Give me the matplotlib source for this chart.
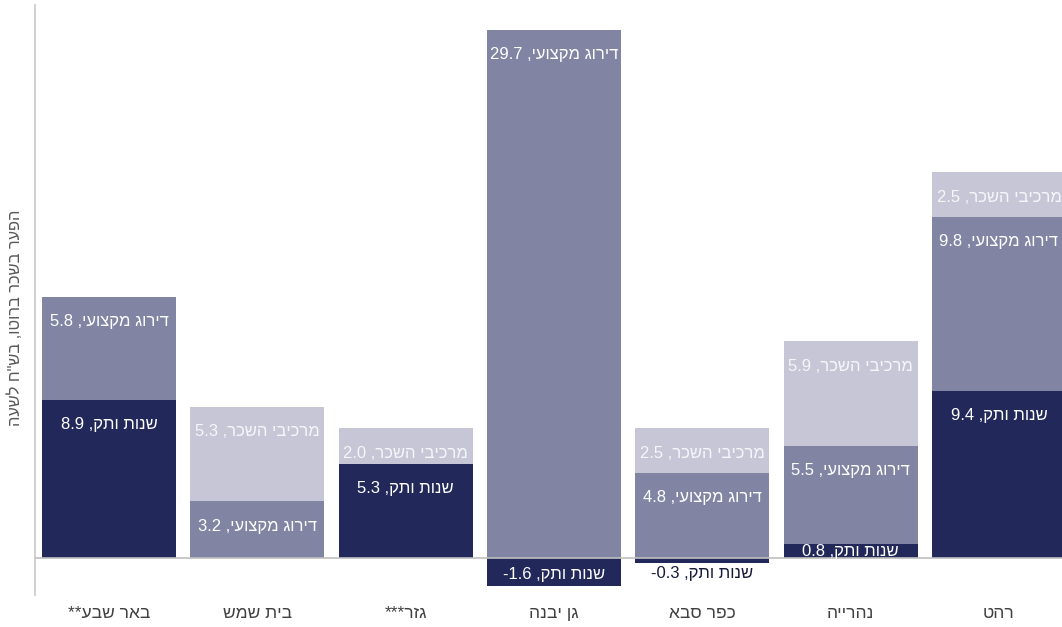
import matplotlib
matplotlib.use("Agg")
import matplotlib.pyplot as plt
import numpy as np

plt.rcParams['font.family'] = ['Liberation Sans', 'DejaVu Sans']

# ---- data (logical Hebrew order) ----
cities = ["באר שבע**", "בית שמש", "גזר***", "גן יבנה", "כפר סבא", "נהרייה", "רהט"]
tenure = [8.9, 0.0, 5.3, -1.6, -0.3, 0.8, 9.4]
professional = [5.8, 3.2, 0.0, 29.7, 4.8, 5.5, 9.8]
wage_components = [0.0, 5.3, 2.0, 0.0, 2.5, 5.9, 2.5]
series_names = ["שנות ותק", "דירוג מקצועי", "מרכיבי השכר"]
y_label = 'הפער בשכר ברוטו, בש"ח לשעה'

colors = ["#22285A", "#8185A3", "#C6C6D6"]
text_colors = ["white", "white", "#F6F6FA"]


def vis(s):
    """Convert logical RTL Hebrew into visual order (simple reversal)."""
    if s.endswith("*"):
        stars = s[len(s.rstrip("*")):]
        return stars + s.rstrip("*")[::-1]
    return s[::-1]


def label_text(name, v):
    return f"{v:.1f} ," + name[::-1]


fig = plt.figure(figsize=(10.62, 6.27), dpi=100)
W, H = 1062, 627
ax_left, ax_right = 35, 35 + 7 * 148.3
ax_top, ax_bot = 5, 595
ax = fig.add_axes([ax_left / W, 1 - ax_bot / H, (ax_right - ax_left) / W, (ax_bot - ax_top) / H])

x = np.arange(len(cities))
width = 0.904
series = [tenure, professional, wage_components]
FS = 12

pos_base = np.zeros(len(cities))
neg_base = np.zeros(len(cities))
for si, vals in enumerate(series):
    vals = np.array(vals)
    bottoms = np.where(vals >= 0, pos_base, neg_base)
    ax.bar(x, vals, width=width, bottom=bottoms, color=colors[si], edgecolor='none', zorder=2)
    for i, v in enumerate(vals):
        if v == 0:
            continue
        txt = label_text(series_names[si], v)
        if v > 0:
            top = bottoms[i] + v
            if v >= 2.0:
                ax.annotate(txt, (x[i], top), xytext=(0, -25), textcoords='offset pixels',
                            ha='center', va='center', color=text_colors[si], fontsize=FS, zorder=4)
            else:
                ax.annotate(txt, (x[i], bottoms[i] + v / 2), xytext=(0, -1), textcoords='offset pixels',
                            ha='center', va='center', color=text_colors[si], fontsize=FS, zorder=4)
        else:
            bot = bottoms[i] + v
            if abs(v) >= 1.0:
                ax.annotate(txt, (x[i], bottoms[i] + v / 2), xytext=(0, -2), textcoords='offset pixels',
                            ha='center', va='center', color=text_colors[si], fontsize=FS, zorder=4)
            else:
                ax.annotate(txt, (x[i], bot), xytext=(0, -10), textcoords='offset pixels',
                            ha='center', va='center', color="#15193A", fontsize=FS, zorder=4)
    pos_base = pos_base + np.where(vals > 0, vals, 0)
    neg_base = neg_base + np.where(vals < 0, vals, 0)

ax.set_xlim(-0.5, len(cities) - 0.5)
ax.set_ylim(-2.08, 31.1)
ax.axhline(0, color='#BFBFBF', lw=1.2, zorder=3)

for s in ['top', 'right', 'bottom']:
    ax.spines[s].set_visible(False)
ax.spines['left'].set_color('#C8C8C8')
ax.spines['left'].set_linewidth(1.2)

ax.set_yticks([])
ax.set_xticks(x)
ax.set_xticklabels([vis(c) for c in cities], fontsize=12.5, color='#404040')
ax.tick_params(axis='x', length=0, pad=8)

fig.text(15 / W, 1 - 318 / H, vis(y_label), rotation=90, ha='center', va='center',
         fontsize=11.8, color='#595959')

fig.savefig("out.png", dpi=100)
